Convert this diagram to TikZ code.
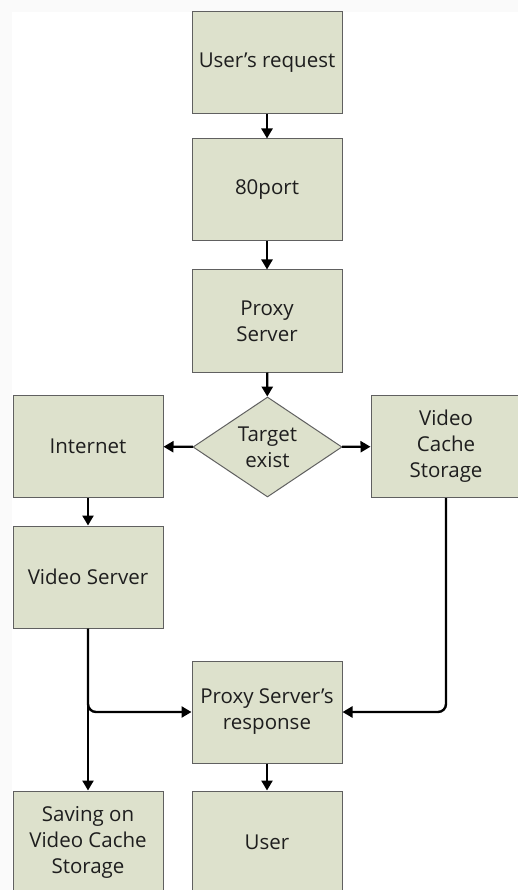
\documentclass[tikz,border=0pt]{standalone}
\usepackage{fontspec}
\setmainfont{Open Sans}
\usetikzlibrary{shapes.geometric,arrows.meta}
\definecolor{boxfill}{HTML}{DDE1CC}
\definecolor{boxline}{HTML}{606060}
\definecolor{txt}{HTML}{1E1E1E}
\definecolor{outer}{HTML}{FAFAFA}
\begin{document}
\begin{tikzpicture}[x=1pt,y=-1pt,
  box/.style={draw=boxline,line width=1pt,fill=boxfill,minimum width=150pt,minimum height=102pt,
    align=center,text=txt,font=\fontsize{20.5}{26}\selectfont,inner sep=0pt},
  dec/.style={diamond,draw=boxline,line width=1pt,fill=boxfill,minimum width=149pt,minimum height=100pt,
    aspect=1.49,align=center,text=txt,font=\fontsize{20.5}{26}\selectfont,inner sep=0pt},
  conn/.style={line width=2.4pt,-{Triangle[length=10pt,width=11pt]},rounded corners=8pt}]
\useasboundingbox (0,0) rectangle (518,890);
\fill[outer] (0,0) rectangle (518,890);
\fill[white] (12,12) rectangle (518,890);
\node[box] (req) at (267,63) {User’s request};
\node[box] (port) at (267,190) {80port};
\node[box] (proxy) at (267,321) {Proxy\\Server};
\node[dec] (tgt) at (267.5,447) {Target\\exist};
\node[box] (inet) at (88,446.5) {Internet};
\node[box] (vcs) at (446,446.5) {Video\\Cache\\Storage};
\node[box] (vsrv) at (88,577) {Video Server};
\node[box] (resp) at (267,712) {Proxy Server’s\\response};
\node[box] (save) at (88,842) {Saving on\\Video Cache\\Storage};
\node[box] (user) at (267,842) {User};
\draw[conn] (req) -- (port);
\draw[conn] (port) -- (proxy);
\draw[conn] (proxy) -- (tgt);
\draw[conn] (tgt) -- (inet);
\draw[conn] (tgt) -- (vcs);
\draw[conn] (inet) -- (vsrv);
\draw[conn] (vsrv) -- (save);
\draw[conn] (vsrv.south) |- (resp.west);
\draw[conn] (vcs.south) |- (resp.east);
\draw[conn] (resp) -- (user);
\end{tikzpicture}
\end{document}
